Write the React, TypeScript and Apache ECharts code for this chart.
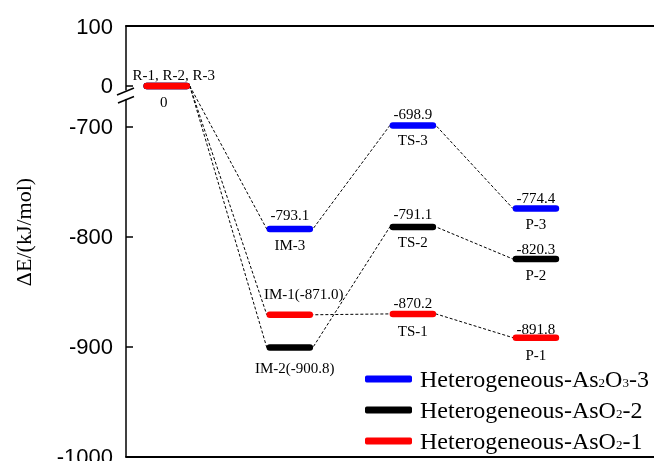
import React, { useEffect, useRef } from 'react';
import * as echarts from 'echarts';

// ---- data ----
const stageNames = ['R', 'IM', 'TS', 'P'];
const seriesNames = ['Heterogeneous-As2O3-3', 'Heterogeneous-AsO2-2', 'Heterogeneous-AsO2-1'];
const legendRich = [
  'Heterogeneous-As{sub|2}O{sub|3}-3',
  'Heterogeneous-AsO{sub|2}-2',
  'Heterogeneous-AsO{sub|2}-1',
];
const seriesColors = ['#0000ff', '#000000', '#ff0000'];
const energy3 = [0, -793.1, -698.9, -774.4];
const energy2 = [0, -900.8, -791.1, -820.3];
const energy1 = [0, -871.0, -870.2, -891.8];
const energies = [energy3, energy2, energy1];
const topLabels3 = ['', '-793.1', '-698.9', '-774.4'];
const bottomLabels3 = ['', 'IM-3', 'TS-3', 'P-3'];
const topLabels2 = ['', '', '-791.1', '-820.3'];
const bottomLabels2 = ['', 'IM-2(-900.8)', 'TS-2', 'P-2'];
const topLabels1 = ['R-1, R-2, R-3', 'IM-1(-871.0)', '-870.2', '-891.8'];
const bottomLabels1 = ['0', '', 'TS-1', 'P-1'];
const topLabels = [topLabels3, topLabels2, topLabels1];
const bottomLabels = [bottomLabels3, bottomLabels2, bottomLabels1];
const yTicks = [100, 0, -700, -800, -900, -1000];

// ---- layout (broken axis) ----
const GAP = 37;
const UPPER_SCALE = 0.545;
const T = (v: number) => (v > -300 ? -700 + GAP + v * UPPER_SCALE : v);
const HW = 0.1626; // bar half width (line endpoints)
const HWV = 0.187; // visual half width incl. caps
const X_MIN = -0.331;
const X_MAX = 4;
// label offsets [dxTop, dyTop, dxBottom, dyBottom] per group/stage
const labelOffsets: number[][][] = [
  [[0, 12, 0, 16], [0, 14, 0, 16], [0, 11, 0, 15], [0, 11, 0, 15]],
  [[0, 12, 0, 16], [0, 14, 5, 20], [0, 13, 0, 15], [0, 10, 0, 16]],
  [[7, 11, -3, 16], [14, 21, 0, 16], [0, 11, 0, 17], [0, 9, 0, 17]],
];

const SERIF = '"Liberation Serif", "Times New Roman", serif';
const SANS = '"Liberation Sans", Arial, sans-serif';

export default function App() {
  const ref = useRef<HTMLDivElement>(null);
  useEffect(() => {
    if (!ref.current) return;
    const chart = echarts.init(ref.current, undefined, { renderer: 'svg' });

    const series: any[] = [];
    // connectors
    energies.forEach((e) => {
      const pts: number[][] = [];
      for (let i = 0; i < e.length; i++) {
        if (i > 0) pts.push([i - HWV, T(e[i])]);
        if (i < e.length - 1) pts.push([i + HWV, T(e[i])]);
      }
      series.push({
        type: 'line',
        data: pts,
        symbol: 'none',
        silent: true,
        lineStyle: { color: '#000', width: 1, type: [3, 2] },
        z: 1,
      });
    });
    // bars
    energies.forEach((e, g) => {
      e.forEach((v, i) => {
        series.push({
          type: 'line',
          name: seriesNames[g],
          data: [[i - HW, T(v)], [i + HW, T(v)]],
          symbol: 'none',
          silent: true,
          color: seriesColors[g],
          itemStyle: { color: seriesColors[g] },
          lineStyle: { color: seriesColors[g], width: 6.5, cap: 'round' },
          z: 3,
        });
      });
    });
    // labels
    const labelItems: any[] = [];
    energies.forEach((e, g) => {
      e.forEach((v, i) => {
        labelItems.push({ x: i, y: T(v), top: topLabels[g][i], bottom: bottomLabels[g][i], off: labelOffsets[g][i] });
      });
    });
    series.push({
      type: 'custom',
      silent: true,
      z: 5,
      data: labelItems.map((d) => [d.x, d.y]),
      encode: { x: 0, y: 1 },
      renderItem: (params: any, api: any) => {
        const d = labelItems[params.dataIndex];
        const p = api.coord([d.x, d.y]);
        const children: any[] = [];
        if (d.top) {
          children.push({
            type: 'text',
            x: p[0] + d.off[0],
            y: p[1] - d.off[1],
            style: { text: d.top, fill: '#000', fontSize: 15, fontFamily: SERIF, align: 'center', verticalAlign: 'middle' },
          });
        }
        if (d.bottom) {
          children.push({
            type: 'text',
            x: p[0] + d.off[2],
            y: p[1] + d.off[3],
            style: { text: d.bottom, fill: '#000', fontSize: 15, fontFamily: SERIF, align: 'center', verticalAlign: 'middle' },
          });
        }
        return { type: 'group', children };
      },
    });

    const tickVals = yTicks.map(T);
    const option: any = {
      animation: false,
      grid: { left: 126, top: 26, right: -5, height: 430.7, outerBoundsMode: 'none', containLabel: false },
      xAxis: [
        {
          type: 'value', min: X_MIN, max: X_MAX, position: 'bottom',
          axisLine: { show: true, onZero: false, lineStyle: { color: '#000', width: 1.8 } },
          axisTick: { show: false }, axisLabel: { show: false }, splitLine: { show: false },
        },
        {
          type: 'value', min: X_MIN, max: X_MAX, position: 'top',
          axisLine: { show: true, onZero: false, lineStyle: { color: '#000', width: 1.8 } },
          axisTick: { show: false }, axisLabel: { show: false }, splitLine: { show: false },
        },
      ],
      yAxis: {
        type: 'value', min: T(-1000), max: T(100),
        axisLine: { show: true, onZero: false, lineStyle: { color: '#000', width: 1.5 } },
        axisTick: { show: true, inside: true, length: 7, customValues: tickVals, lineStyle: { color: '#000', width: 1.5 } },
        axisLabel: {
          show: true, margin: 13, color: '#000', fontSize: 22, fontFamily: SANS,
          customValues: tickVals,
          formatter: (val: number) => {
            let best = yTicks[0];
            let bd = Infinity;
            yTicks.forEach((t) => { const dd = Math.abs(T(t) - val); if (dd < bd) { bd = dd; best = t; } });
            return String(best);
          },
        },
        splitLine: { show: false },
      },
      legend: {
        data: seriesNames,
        orient: 'vertical',
        left: 365,
        top: 367,
        padding: 0,
        itemGap: 7,
        itemWidth: 47,
        itemHeight: 7,
        icon: 'roundRect',
        selectedMode: false,
        formatter: (name: string) => legendRich[seriesNames.indexOf(name)],
        textStyle: {
          color: '#000', fontSize: 24, fontFamily: SERIF, padding: [0, 0, 0, 3],
          rich: { sub: { fontSize: 13, fontFamily: SERIF, color: '#000', verticalAlign: 'bottom', padding: [0, 0, 2, 0] } },
        },
      },
      series,
    };
    chart.setOption(option);

    const p0 = chart.convertToPixel({ gridIndex: 0 }, [X_MIN, T(0)]) as number[];
    const ax = p0[0];
    const y0 = p0[1];
    chart.setOption({
      graphic: [
        { type: 'rect', shape: { x: ax - 3, y: y0 + 4.5, width: 6, height: 8.5 }, style: { fill: '#fff' }, z: 10 },
        { type: 'line', shape: { x1: ax - 9, y1: y0 + 9, x2: ax + 8, y2: y0 + 2 }, style: { stroke: '#000', lineWidth: 1.5 }, z: 11 },
        { type: 'line', shape: { x1: ax - 8, y1: y0 + 17, x2: ax + 8, y2: y0 + 10.5 }, style: { stroke: '#000', lineWidth: 1.5 }, z: 11 },
        {
          type: 'text', x: 23, y: 232, rotation: Math.PI / 2,
          style: { text: 'ΔE/(kJ/mol)', fill: '#000', fontSize: 22, fontFamily: SERIF, align: 'center', verticalAlign: 'middle' },
        },
      ],
    });

    return () => chart.dispose();
  }, []);
  return <div ref={ref} style={{ position: 'fixed', left: 0, top: 0, width: 654, height: 461 }} />;
}
